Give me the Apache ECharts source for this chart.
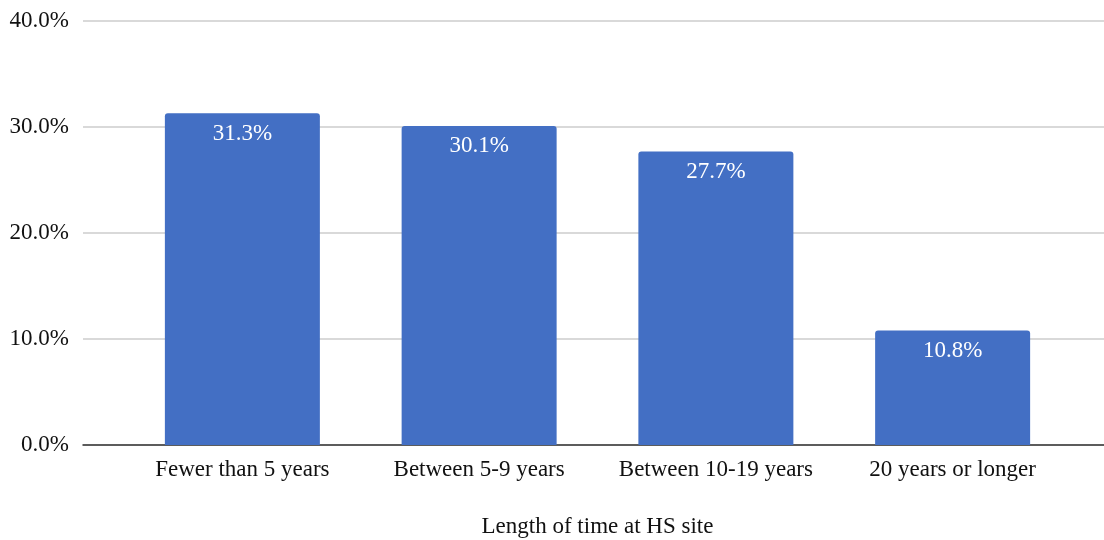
<!DOCTYPE html>
<html>
<head>
<meta charset="utf-8">
<script src="https://cdn.jsdelivr.net/npm/echarts@6/dist/echarts.min.js"></script>
<style>
  html, body { margin: 0; padding: 0; background: #fff; }
  #chart { width: 1104px; height: 540px; }
</style>
</head>
<body>
<div id="chart"></div>
<script>
// Share of respondents by length of time at HS site
const categories = ['Fewer than 5 years', 'Between 5-9 years', 'Between 10-19 years', '20 years or longer'];
const shares = [31.3, 30.1, 27.7, 10.8];
const yTicks = [0, 10, 20, 30, 40];
const xTitle = 'Length of time at HS site';

const FONT = '"Liberation Serif", "Times New Roman", serif';
const FS = 23;
const yMin = yTicks[0], yMax = yTicks[yTicks.length - 1], yStep = yTicks[1] - yTicks[0];

const chart = echarts.init(document.getElementById('chart'), null, { renderer: 'canvas' });
chart.setOption({
  animation: false,
  backgroundColor: '#ffffff',
  grid: [
    // full-width grid carrying the value axis, gridlines and baseline
    { left: 83, right: 0, top: 21, bottom: 95, containLabel: false, outerBoundsMode: 'none' },
    // inner grid holding the category bars
    { left: 124, right: 33, top: 21, bottom: 95, containLabel: false, outerBoundsMode: 'none' }
  ],
  xAxis: [
    {
      gridIndex: 0, type: 'value', min: 0, max: 1,
      axisLine: { show: true, lineStyle: { color: '#333333', width: 1.5 } },
      axisTick: { show: false }, axisLabel: { show: false }, splitLine: { show: false }
    },
    {
      gridIndex: 1, type: 'category', data: categories,
      axisLine: { show: false }, axisTick: { show: false },
      axisLabel: { color: '#111111', fontFamily: FONT, fontSize: FS, margin: 13, interval: 0 },
      name: xTitle, nameLocation: 'middle', nameGap: 70,
      nameTextStyle: { color: '#111111', fontFamily: FONT, fontSize: FS }
    }
  ],
  yAxis: [
    {
      gridIndex: 0, type: 'value', min: yMin, max: yMax, interval: yStep,
      axisLine: { show: false }, axisTick: { show: false },
      axisLabel: {
        color: '#111111', fontFamily: FONT, fontSize: FS, margin: 14,
        formatter: v => v.toFixed(1) + '%'
      },
      splitLine: { lineStyle: { color: '#cccccc', width: 1.5 } }
    },
    {
      gridIndex: 1, type: 'value', min: yMin, max: yMax, interval: yStep,
      axisLine: { show: false }, axisTick: { show: false },
      axisLabel: { show: false }, splitLine: { show: false }
    }
  ],
  series: [{
    type: 'bar',
    xAxisIndex: 1, yAxisIndex: 1,
    data: shares,
    barWidth: 155,
    itemStyle: { color: '#436fc4', borderRadius: [3, 3, 0, 0] },
    label: {
      show: true, position: 'insideTop', distance: 9,
      color: '#ffffff', fontFamily: FONT, fontSize: FS,
      formatter: p => p.value.toFixed(1) + '%'
    }
  }]
});
</script>
</body>
</html>
